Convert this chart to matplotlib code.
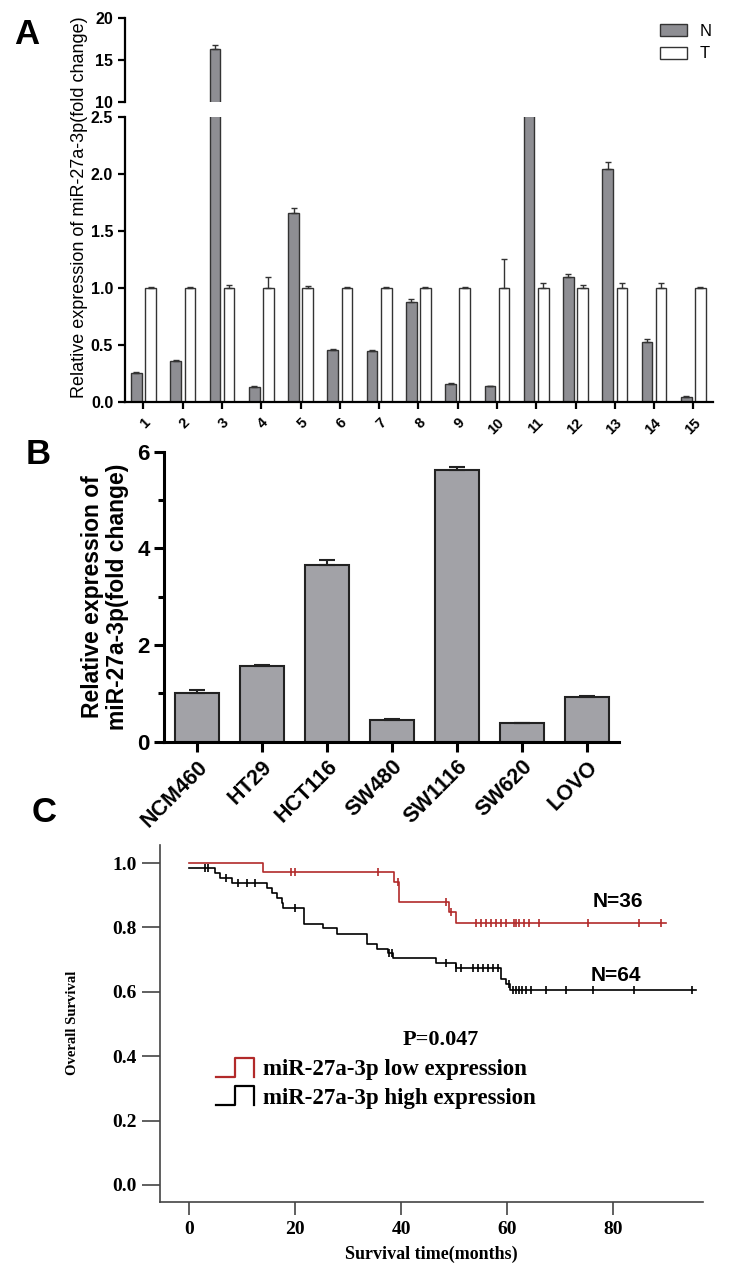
import numpy as np
import matplotlib
matplotlib.use("Agg")
import matplotlib.pyplot as plt
from matplotlib.patches import Patch
from matplotlib.lines import Line2D
from matplotlib.legend_handler import HandlerBase

plt.rcParams["font.family"] = ["Liberation Sans", "DejaVu Sans"]

# ---- panel A: tissue pairs ----
pairs = [str(i) for i in range(1, 16)]
n_vals = [0.25, 0.356, 16.3, 0.13, 1.66, 0.453, 0.447, 0.876, 0.159, 0.136, 3.0, 1.094, 2.043, 0.526, 0.044]
n_err = [0.01, 0.008, 0.5, 0.008, 0.04, 0.008, 0.005, 0.03, 0.005, 0.005, 0.0, 0.032, 0.065, 0.024, 0.005]
t_vals = [1.0] * 15
t_err = [0.01, 0.005, 0.03, 0.094, 0.015, 0.01, 0.005, 0.01, 0.005, 0.256, 0.044, 0.03, 0.044, 0.04, 0.005]

# ---- panel B: cell lines ----
cell_lines = ["NCM460", "HT29", "HCT116", "SW480", "SW1116", "SW620", "LOVO"]
cell_vals = [1.0, 1.57, 3.655, 0.45, 5.62, 0.38, 0.92]
cell_err = [0.06, 0.02, 0.1, 0.01, 0.07, 0.005, 0.02]

# ---- panel C: Kaplan-Meier ----
low_t = [0, 14, 38.7, 39.6, 49.0, 50.4]
low_s = [1.0, 0.972, 0.941, 0.879, 0.848, 0.814]
low_end = 90
low_cens = [19.3, 20.0, 35.7, 39.5, 48.5, 49.4, 54.2, 55.1, 56.0, 57.0, 57.9, 58.9, 59.8,
            61.3, 61.7, 62.3, 63.2, 64.2, 66.0, 75.3, 85.0, 89.0]

high_t = [0, 4.9, 5.8, 8.0, 14.7, 15.6, 16.5, 17.5, 17.8, 21.6, 25.3, 27.9, 33.5, 35.5,
          37.5, 38.4, 46.6, 50.4, 58.9, 59.8, 60.5]
high_s = [0.984, 0.969, 0.953, 0.937, 0.922, 0.906, 0.891, 0.875, 0.859, 0.812, 0.797,
          0.779, 0.750, 0.733, 0.721, 0.705, 0.690, 0.673, 0.640, 0.625, 0.606]
high_end = 95.7
high_cens = [3.0, 3.6, 6.9, 9.3, 10.9, 12.5, 20.0, 37.7, 38.2, 48.5, 50.4, 51.3, 53.5, 54.5,
             55.4, 56.4, 57.3, 58.3, 60.4, 61.1, 61.7, 62.3, 62.9, 63.6, 64.5, 67.4, 71.1,
             76.2, 84.0, 95.0]

GREY_A = "#8e8e93"
GREY_B = "#a2a2a7"
RED = "#b22a2a"

W, H = 732, 1269
fig = plt.figure(figsize=(W / 100, H / 100), dpi=100)


def box(left, top, right, bottom):
    return [left / W, 1 - bottom / H, (right - left) / W, (bottom - top) / H]


# ================= A =================
ax_top = fig.add_axes(box(125, 18.3, 713, 101.7))
ax_bot = fig.add_axes(box(125, 117.3, 713, 401.7))
x = np.arange(1, 16)
bw = 0.27
for ax in (ax_top, ax_bot):
    ax.bar(x - 0.18, n_vals, bw, color=GREY_A, edgecolor="#333333", linewidth=1.0,
           yerr=[np.zeros(15), n_err], capsize=2.5,
           error_kw=dict(ecolor="#333333", elinewidth=1.0, capthick=1.0))
    ax.bar(x + 0.18, t_vals, bw, color="white", edgecolor="#333333", linewidth=1.0,
           yerr=[np.zeros(15), t_err], capsize=2.5,
           error_kw=dict(ecolor="#333333", elinewidth=1.0, capthick=1.0))
    ax.set_xlim(0.53, 15.5)
    for s in ("top", "right"):
        ax.spines[s].set_visible(False)
    ax.spines["left"].set_linewidth(1.6)
    ax.spines["bottom"].set_linewidth(1.6)
    ax.tick_params(axis="y", width=1.6, length=5, labelsize=11.5)

ax_top.set_ylim(10, 20)
ax_top.set_yticks([10, 15, 20])
ax_top.set_yticklabels(["10", "15", "20"], fontweight="bold")
ax_top.spines["bottom"].set_visible(False)
ax_top.set_xticks([])

ax_bot.set_ylim(0, 2.5)
ax_bot.set_yticks([0, 0.5, 1.0, 1.5, 2.0, 2.5])
ax_bot.set_yticklabels(["0.0", "0.5", "1.0", "1.5", "2.0", "2.5"], fontweight="bold")
ax_bot.set_xticks(x)
ax_bot.set_xticklabels(pairs, rotation=45, ha="right", rotation_mode="anchor",
                       fontsize=10.5, fontweight="bold")
ax_bot.tick_params(axis="x", width=1.6, length=5, pad=5)

fig.text(80 / W, 1 - 207 / H, "Relative expression of miR-27a-3p(fold change)",
         rotation=90, ha="center", va="center", fontsize=13)

fig.legend(handles=[Patch(facecolor=GREY_A, edgecolor="#333333", label="N"),
                    Patch(facecolor="white", edgecolor="#333333", label="T")],
           loc="upper left", bbox_to_anchor=(645 / W, 1 - 9 / H), frameon=False,
           fontsize=12, handlelength=1.6, handleheight=0.75, labelspacing=0.45,
           handletextpad=0.8)

fig.text(27 / W, 1 - 35 / H, "A", fontsize=25, fontweight="bold", ha="center", va="center")

# ================= B =================
axb = fig.add_axes(box(164.3, 451.7, 619.3, 741.7))
xb = np.arange(len(cell_lines))
axb.bar(xb, cell_vals, 0.68, color=GREY_B, edgecolor="#222222", linewidth=1.5,
        yerr=[np.zeros(len(cell_vals)), cell_err], capsize=6,
        error_kw=dict(ecolor="#222222", elinewidth=1.5, capthick=1.5))
axb.set_xlim(-0.5, 6.5)
axb.set_ylim(0, 6)
axb.set_yticks([0, 2, 4, 6])
axb.set_yticks([1, 3, 5], minor=True)
for s in ("top", "right"):
    axb.spines[s].set_visible(False)
axb.spines["left"].set_linewidth(2.2)
axb.spines["bottom"].set_linewidth(2.2)
axb.tick_params(axis="both", which="major", width=2.2, length=7, labelsize=16)
axb.tick_params(axis="y", which="minor", width=2.2, length=4)
axb.set_yticklabels(["0", "2", "4", "6"], fontweight="bold")
axb.set_xticks(xb)
axb.set_xticklabels(cell_lines, rotation=45, ha="right", rotation_mode="anchor",
                    fontsize=15.5, fontweight="bold")
axb.set_ylabel("Relative expression of\nmiR-27a-3p(fold change)", fontsize=16.5,
               fontweight="bold", labelpad=6, linespacing=1.1)

fig.text(38 / W, 1 - 454 / H, "B", fontsize=25, fontweight="bold", ha="center", va="center")

# ================= C =================
axc = fig.add_axes(box(160, 845, 703, 1202))
serif = ["Liberation Serif", "DejaVu Serif"]


def km(ax, t, s, end, cens, color):
    tt = list(t) + [end]
    ss = list(s) + [s[-1]]
    ax.step(tt, ss, where="post", color=color, linewidth=1.2)
    idx = np.searchsorted(np.array(t), np.array(cens), side="right") - 1
    ax.plot(cens, np.array(s)[idx], linestyle="none", marker="|", markersize=6,
            markeredgewidth=1.2, color=color)


km(axc, low_t, low_s, low_end, low_cens, RED)
km(axc, high_t, high_s, high_end, high_cens, "black")

axc.set_xlim(-5.5, 97)
axc.set_ylim(-0.053, 1.056)
axc.set_yticks([0.0, 0.2, 0.4, 0.6, 0.8, 1.0])
axc.set_xticks([0, 20, 40, 60, 80])
for s in ("top", "right"):
    axc.spines[s].set_visible(False)
for s in ("left", "bottom"):
    axc.spines[s].set_linewidth(1.2)
    axc.spines[s].set_color("#444444")
axc.tick_params(axis="y", length=13, width=1.2, color="#444444", pad=4)
axc.tick_params(axis="x", length=9, width=1.2, color="#444444", pad=5)
axc.set_yticklabels(["0.0", "0.2", "0.4", "0.6", "0.8", "1.0"], family=serif,
                    fontweight="bold", fontsize=14)
axc.set_xticklabels(["0", "20", "40", "60", "80"], family=serif, fontweight="bold",
                    fontsize=14)
axc.set_xlabel("Survival time(months)", family=serif, fontweight="bold", fontsize=13,
               labelpad=5)
fig.text(72 / W, 1 - 1023 / H, "Overall Survival", rotation=90, family=serif,
         fontweight="bold", fontsize=10.5, ha="center", va="center")

axc.text(81, 0.88, "N=36", fontsize=15, fontweight="bold", ha="center", va="center")
axc.text(80.6, 0.65, "N=64", fontsize=15, fontweight="bold", ha="center", va="center")
axc.text(47.4, 0.45, "P=0.047", family=serif, fontweight="bold", fontsize=16,
         ha="center", va="center")


class StepHandler(HandlerBase):
    def create_artists(self, legend, orig, xd, yd, width, height, fontsize, trans):
        xs = np.array([0, 0.5, 0.5, 1.0, 1.0]) * width - xd
        ys = np.array([0, 0, 1.0, 1.0, 0]) * height * 1.2 - yd - height * 0.1
        ln = Line2D(xs, ys, color=orig.get_color(), linewidth=1.6, transform=trans)
        return [ln]


h_low = Line2D([], [], color=RED, label="miR-27a-3p low expression")
h_high = Line2D([], [], color="black", label="miR-27a-3p high expression")
fig.legend(handles=[h_low, h_high], loc="upper left", bbox_to_anchor=(205 / W, 1 - 1048 / H),
           frameon=False, handler_map={Line2D: StepHandler()},
           prop=dict(family=serif, weight="bold", size=16.5), handlelength=1.65,
           handletextpad=0.4, labelspacing=0.32, borderpad=0)

fig.text(44 / W, 1 - 812 / H, "C", fontsize=25, fontweight="bold", ha="center", va="center")

fig.savefig("out.png", dpi=100)
